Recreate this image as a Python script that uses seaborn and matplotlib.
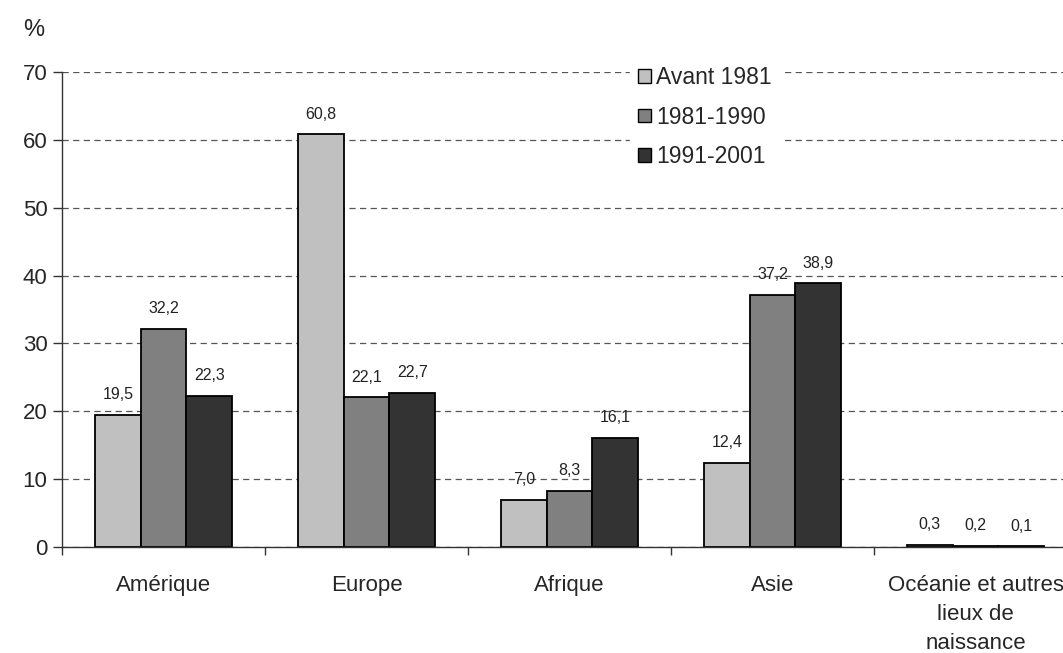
import matplotlib
matplotlib.use("Agg")
import matplotlib.pyplot as plt
from matplotlib.patches import Patch
from matplotlib.ticker import FixedLocator
import seaborn as sns
import pandas as pd

# data
regions = ["Amérique", "Europe", "Afrique", "Asie",
           "Océanie et autres\nlieux de\nnaissance"]
periods = ["Avant 1981", "1981-1990", "1991-2001"]
avant_1981 = [19.5, 60.8, 7.0, 12.4, 0.3]
p_1981_1990 = [32.2, 22.1, 8.3, 37.2, 0.2]
p_1991_2001 = [22.3, 22.7, 16.1, 38.9, 0.1]
colors = ["#c0c0c0", "#808080", "#333333"]

rows = []
for period, vals in zip(periods, [avant_1981, p_1981_1990, p_1991_2001]):
    for region, v in zip(regions, vals):
        rows.append({"region": region, "period": period, "value": v})
df = pd.DataFrame(rows)

sns.set_style("white")
plt.rcParams["font.family"] = ["Liberation Sans", "DejaVu Sans"]

fig = plt.figure(figsize=(10.63, 6.53), dpi=100)
ax = fig.add_axes([62 / 1063, 106 / 653, 1015 / 1063, 475 / 653])

sns.barplot(data=df, x="region", y="value", hue="period", order=regions,
            hue_order=periods, palette=colors, saturation=1, width=0.675,
            edgecolor="black", linewidth=1.3, ax=ax, legend=False)

# value labels above the bars
for cont in ax.containers:
    labs = [f"{b.get_height():.1f}".replace(".", ",") for b in cont]
    ax.bar_label(cont, labels=labs, padding=9, fontsize=11.5, color="#222222")

ax.set_xlim(-0.5, 4.5)
ax.set_ylim(0, 70)
ax.set_yticks(range(0, 71, 10))
ax.yaxis.grid(True, linestyle=(0, (5, 3.5)), color="#555555", linewidth=0.9)
ax.set_axisbelow(True)
ax.set_xlabel("")
ax.set_ylabel("")

for s in ["top", "right"]:
    ax.spines[s].set_visible(False)
for s in ["left", "bottom"]:
    ax.spines[s].set_color("#333333")
    ax.spines[s].set_linewidth(1.0)

ax.tick_params(axis="y", length=6.5, width=1.0, color="#333333",
               labelsize=16, pad=4, direction="out", left=True)
ax.tick_params(axis="x", which="major", length=0, labelsize=16, pad=20)
ax.xaxis.set_minor_locator(FixedLocator([-0.5, 0.5, 1.5, 2.5, 3.5]))
ax.tick_params(axis="x", which="minor", length=6, width=1.0, color="#333333",
               direction="out", bottom=True)
for lab in ax.get_xticklabels():
    lab.set_linespacing(1.5)
    lab.set_verticalalignment("top")

handles = [Patch(facecolor=c, edgecolor="black", linewidth=1.0) for c in colors]
leg = fig.legend(handles, periods, loc="upper left",
                 bbox_to_anchor=(630 / 1063, 1 - 58 / 653), frameon=True,
                 fontsize=16.5, handlelength=0.55, handleheight=0.55,
                 handletextpad=0.25, labelspacing=0.72, borderpad=0.35,
                 borderaxespad=0)
leg.get_frame().set_facecolor("white")
leg.get_frame().set_edgecolor("white")
leg.get_frame().set_alpha(1)

fig.text(23 / 1063, 1 - 30 / 653, "%", fontsize=17, va="center", ha="left")

fig.savefig("out.png", dpi=100)
